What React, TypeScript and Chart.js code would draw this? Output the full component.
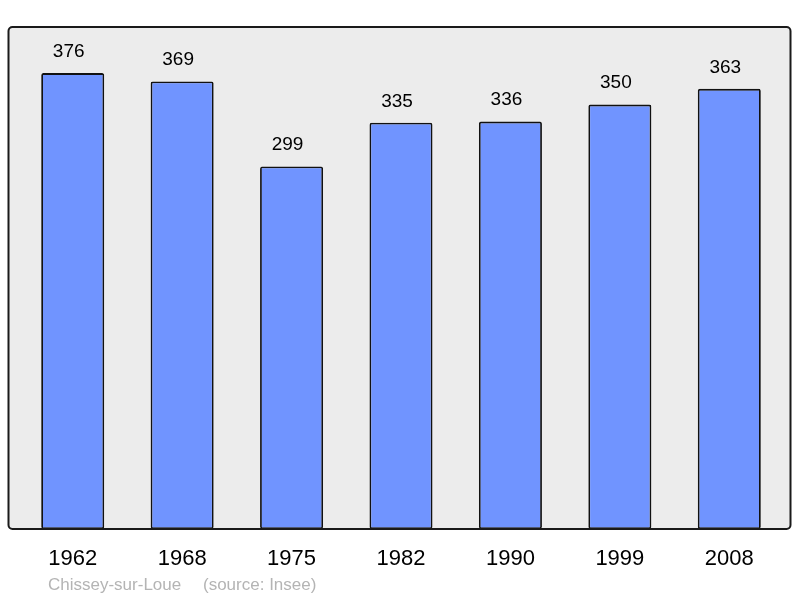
import React, { useEffect, useRef } from "react";
import { Chart, registerables } from "chart.js";

Chart.register(...registerables);

const years = ["1962", "1968", "1975", "1982", "1990", "1999", "2008"];
const population = [376, 369, 299, 335, 336, 350, 363];

const FONT = "'Liberation Sans', Arial, sans-serif";

const boxPlugin = {
  id: "boxPlugin",
  beforeDatasetsDraw(chart: any) {
    const { ctx, chartArea } = chart;
    const x = chartArea.left - 9.5;
    const y = chartArea.top;
    const w = chartArea.right + 6.5 - x;
    const h = chartArea.bottom - y;
    ctx.save();
    ctx.fillStyle = "#ececec";
    ctx.beginPath();
    ctx.roundRect(x, y, w, h, 4);
    ctx.fill();
    ctx.restore();
  },
  afterDatasetsDraw(chart: any) {
    const { ctx, chartArea } = chart;
    const x = chartArea.left - 9.5;
    const y = chartArea.top;
    const w = chartArea.right + 6.5 - x;
    const h = chartArea.bottom - y;
    ctx.save();
    ctx.strokeStyle = "#1a1a1a";
    ctx.lineWidth = 2;
    ctx.beginPath();
    ctx.roundRect(x, y, w, h, 4);
    ctx.stroke();

    // value labels
    const meta = chart.getDatasetMeta(0);
    ctx.fillStyle = "#000";
    ctx.font = `19px ${FONT}`;
    ctx.textAlign = "center";
    ctx.textBaseline = "middle";
    meta.data.forEach((bar: any, i: number) => {
      ctx.fillText(String(chart.data.datasets[0].data[i]), bar.x - 4, bar.y - 21.5);
    });

    // footer
    ctx.fillStyle = "#b4b4b4";
    ctx.font = `17px ${FONT}`;
    ctx.textAlign = "left";
    ctx.textBaseline = "middle";
    ctx.fillText("Chissey-sur-Loue", 48, 585);
    ctx.fillText("(source: Insee)", 203, 585);
    ctx.restore();
  },
};

export default function App() {
  const ref = useRef<HTMLCanvasElement | null>(null);
  useEffect(() => {
    if (!ref.current) return;
    const chart = new Chart(ref.current, {
      type: "bar",
      data: {
        labels: years,
        datasets: [
          {
            data: population,
            backgroundColor: "#7094ff",
            borderColor: "#111",
            borderWidth: 1.8,
            borderRadius: 2,
            borderSkipped: false,
            barPercentage: 0.576,
            categoryPercentage: 1,
          },
        ],
      },
      options: {
        animation: false,
        responsive: false,
        maintainAspectRatio: false,
        layout: { padding: { left: 18, right: 16, top: 27, bottom: 8.6 } },
        plugins: {
          legend: { display: false },
          tooltip: { enabled: false },
          title: { display: false },
        },
        scales: {
          x: {
            grid: { display: false, drawTicks: false },
            border: { display: false },
            ticks: {
              color: "#000",
              font: { family: FONT, size: 22 },
              padding: 17,
              maxRotation: 0,
            },
          },
          y: {
            display: false,
            min: 0,
            max: 414,
          },
        },
      },
      plugins: [boxPlugin],
    });
    return () => chart.destroy();
  }, []);
  return (
    <div style={{ position: "absolute", left: 0, top: 0, width: 800, height: 598 }}>
      <canvas ref={ref} width={800} height={598} style={{ width: 800, height: 598 }} />
    </div>
  );
}
